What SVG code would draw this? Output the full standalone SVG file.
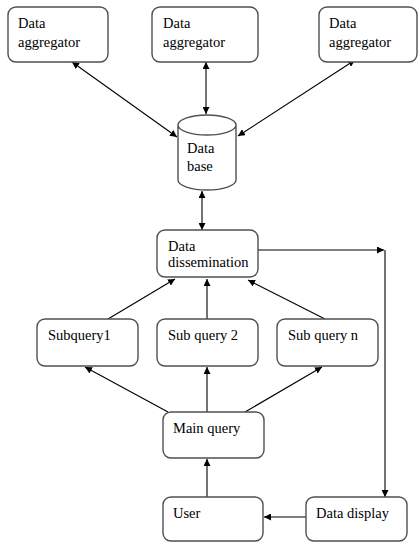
<svg xmlns="http://www.w3.org/2000/svg" width="419" height="544" viewBox="0 0 419 544">
<defs>
<marker id="ah" viewBox="0 0 10 10" refX="10" refY="5" markerWidth="7" markerHeight="7" markerUnits="userSpaceOnUse" orient="auto-start-reverse">
<path d="M0,0 L10,5 L0,10 z" fill="#000"/>
</marker>
<style>
.box{fill:#fff;stroke:#505050;stroke-width:1.4}
.t{font-family:"Liberation Serif","Times New Roman",serif;font-size:14.5px;fill:#000}
.c{fill:none;stroke:#000;stroke-width:1.1}
.a{marker-end:url(#ah)}
.b{marker-start:url(#ah);marker-end:url(#ah)}
</style>
</defs>
<rect width="419" height="544" fill="#fff"/>
<g id="connectors">
<line class="c b" x1="72" y1="62" x2="177" y2="137"/>
<line class="c b" x1="206" y1="62" x2="206" y2="114"/>
<line class="c b" x1="355" y1="60" x2="238" y2="136"/>
<line class="c b" x1="202" y1="191" x2="202" y2="230"/>
<line class="c a" x1="108" y1="319" x2="175" y2="279"/>
<line class="c a" x1="207" y1="319" x2="207" y2="279"/>
<line class="c a" x1="325" y1="319" x2="248" y2="280"/>
<line class="c a" x1="168" y1="412" x2="85" y2="367"/>
<line class="c a" x1="207" y1="412" x2="207" y2="367"/>
<line class="c a" x1="245" y1="412" x2="322" y2="367"/>
<line class="c a" x1="207" y1="497" x2="207" y2="459"/>
<line class="c a" x1="306" y1="517" x2="264" y2="517"/>
<line class="c a" x1="258" y1="250" x2="384" y2="250"/>
<line class="c a" x1="385" y1="250" x2="385" y2="497"/>
</g>
<g id="agg1"><rect class="box" x="8" y="7" width="100" height="55" rx="8"/><text class="t" x="18" y="28">Data</text><text class="t" x="18" y="47">aggregator</text></g>
<g id="agg2"><rect class="box" x="152" y="7" width="106" height="55" rx="8"/><text class="t" x="163" y="28">Data</text><text class="t" x="163" y="47">aggregator</text></g>
<g id="agg3"><rect class="box" x="319" y="7" width="98" height="55" rx="8"/><text class="t" x="329" y="28">Data</text><text class="t" x="329" y="47">aggregator</text></g>
<g id="database">
<path class="box" d="M178,125 L178,180 A29,10 0 0 0 236,180 L236,125 A29,10 0 0 0 178,125 A29,10 0 0 0 236,125"/>
<text class="t" x="187" y="153">Data</text><text class="t" x="187" y="171">base</text>
</g>
<g id="dissemination"><rect class="box" x="157" y="230" width="101" height="47" rx="8"/><text class="t" x="168" y="251">Data</text><text class="t" x="168" y="267">dissemination</text></g>
<g id="subquery1"><rect class="box" x="37" y="319" width="101" height="47" rx="8"/><text class="t" x="48" y="340">Subquery1</text></g>
<g id="subquery2"><rect class="box" x="157" y="319" width="101" height="47" rx="8"/><text class="t" x="168" y="340">Sub query 2</text></g>
<g id="subqueryn"><rect class="box" x="277" y="319" width="101" height="47" rx="8"/><text class="t" x="288" y="340">Sub query n</text></g>
<g id="mainquery"><rect class="box" x="163" y="412" width="101" height="46" rx="8"/><text class="t" x="173" y="433">Main query</text></g>
<g id="user"><rect class="box" x="163" y="497" width="100" height="44" rx="8"/><text class="t" x="173" y="518">User</text></g>
<g id="datadisplay"><rect class="box" x="306" y="497" width="101" height="44" rx="8"/><text class="t" x="316" y="518">Data display</text></g>
</svg>
